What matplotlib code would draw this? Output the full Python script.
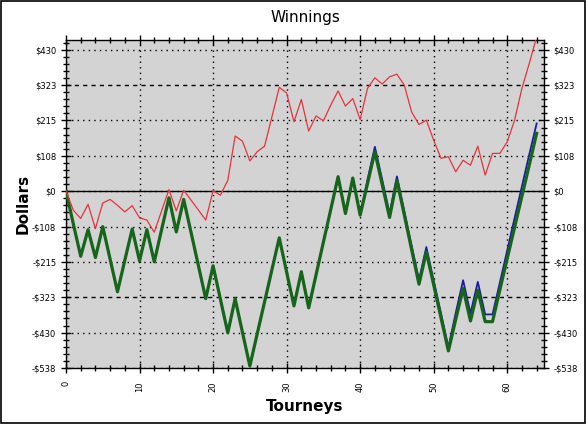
import matplotlib
matplotlib.use('Agg')
import matplotlib.pyplot as plt
import numpy as np
from matplotlib.patches import Rectangle

# tourney number 0..64
tourneys = list(range(65))

# red line (thin)
red = [0, -58, -83, -40, -114, -36, -25, -43, -63, -44,
       -81, -88, -125, -60, 5, -60, 3, -27, -57, -88,
       1, -12, 33, 168, 152, 92, 120, 137, 226, 316,
       299, 211, 279, 183, 229, 214, 262, 305, 259, 282,
       218, 313, 345, 326, 348, 356, 323, 241, 203, 216,
       155, 100, 105, 59, 94, 79, 137, 49, 115, 115,
       150, 216, 313, 389, 470]

# green line (thick)
green = [0, -100, -198, -117, -202, -108, -207, -306, -210, -115,
         -212, -117, -215, -117, -20, -124, -25, -125, -226, -327,
         -227, -329, -431, -327, -430, -532, -434, -337, -239, -142,
         -246, -349, -245, -355, -255, -155, -56, 44, -68, 40,
         -73, 23, 120, 20, -80, 33, -72, -178, -283, -185,
         -285, -386, -486, -390, -296, -395, -301, -397, -397, -300,
         -205, -110, -15, 80, 176]

# blue line (thin, mostly hidden under green)
blue = [0, -100, -198, -117, -202, -108, -207, -306, -210, -115,
        -212, -117, -215, -117, -20, -124, -25, -125, -226, -327,
        -227, -329, -431, -327, -430, -532, -434, -337, -239, -142,
        -246, -349, -245, -355, -255, -155, -56, 44, -68, 40,
        -73, 35, 135, 35, -68, 45, -60, -165, -270, -170,
        -272, -372, -475, -370, -271, -372, -276, -375, -375, -278,
        -180, -82, 15, 112, 206]

ytick_vals = [-538, -430.4, -322.8, -215.2, -107.6, 0, 107.6, 215.2, 322.8, 430.4]
xtick_vals = [0, 10, 20, 30, 40, 50, 60]

def money(v):
    v = int(round(v))
    return ('-$%d' % -v) if v < 0 else ('$%d' % v)

fig = plt.figure(figsize=(5.86, 4.24), dpi=100)
fig.patch.set_facecolor('white')
fig.patches.append(Rectangle((0.001, 0.002), 0.997, 0.996, transform=fig.transFigure,
                             fill=False, edgecolor='black', linewidth=1.2))

ax = fig.add_axes([66/586, 1-368/424, 478/586, 328/424])
ax.set_facecolor('#d3d3d3')

ax.plot(tourneys, blue, color='#1c1ca0', lw=1.3, zorder=3)
ax.plot(tourneys, green, color='#15661a', lw=2.3, zorder=4)
ax.plot(tourneys, red, color='#e8323c', lw=0.9, zorder=6)
ax.axhline(0, color='black', lw=1.0, zorder=2)

ax.set_xlim(0, 65)
ax.set_ylim(-538, 460)

ax.set_yticks(ytick_vals)
ax.set_yticklabels([money(v) for v in ytick_vals])
ax.set_yticks(np.arange(-538, 460, 21.52), minor=True)
ax.set_xticks(xtick_vals)
ax.set_xticklabels([str(v) for v in xtick_vals], rotation=90)
ax.set_xticks(range(0, 66, 2), minor=True)

ax.tick_params(which='both', direction='inout', top=True, right=True,
               labelright=True, labelsize=6, colors='black')
ax.tick_params(which='major', length=7, width=1)
ax.tick_params(which='minor', length=4, width=1)
ax.tick_params(axis='x', which='major', pad=6)

ax.grid(True, which='major', color='black', linestyle=(0, (1, 3)), linewidth=1.0, zorder=1)
for line, v in zip(ax.yaxis.get_gridlines(), ytick_vals):
    if abs(abs(v) - 322.8) < 1:
        line.set_linestyle((0, (3, 3)))

for s in ax.spines.values():
    s.set_linewidth(1.0)

ax.set_title('Winnings', fontsize=11, pad=13)
ax.set_ylabel('Dollars', fontsize=11, fontweight='bold')
ax.set_xlabel('Tourneys', fontsize=11, fontweight='bold')
ax.yaxis.set_label_coords(-0.075, 0.5)
ax.xaxis.set_label_coords(0.5, -0.095)

fig.savefig('out.png', dpi=100)
